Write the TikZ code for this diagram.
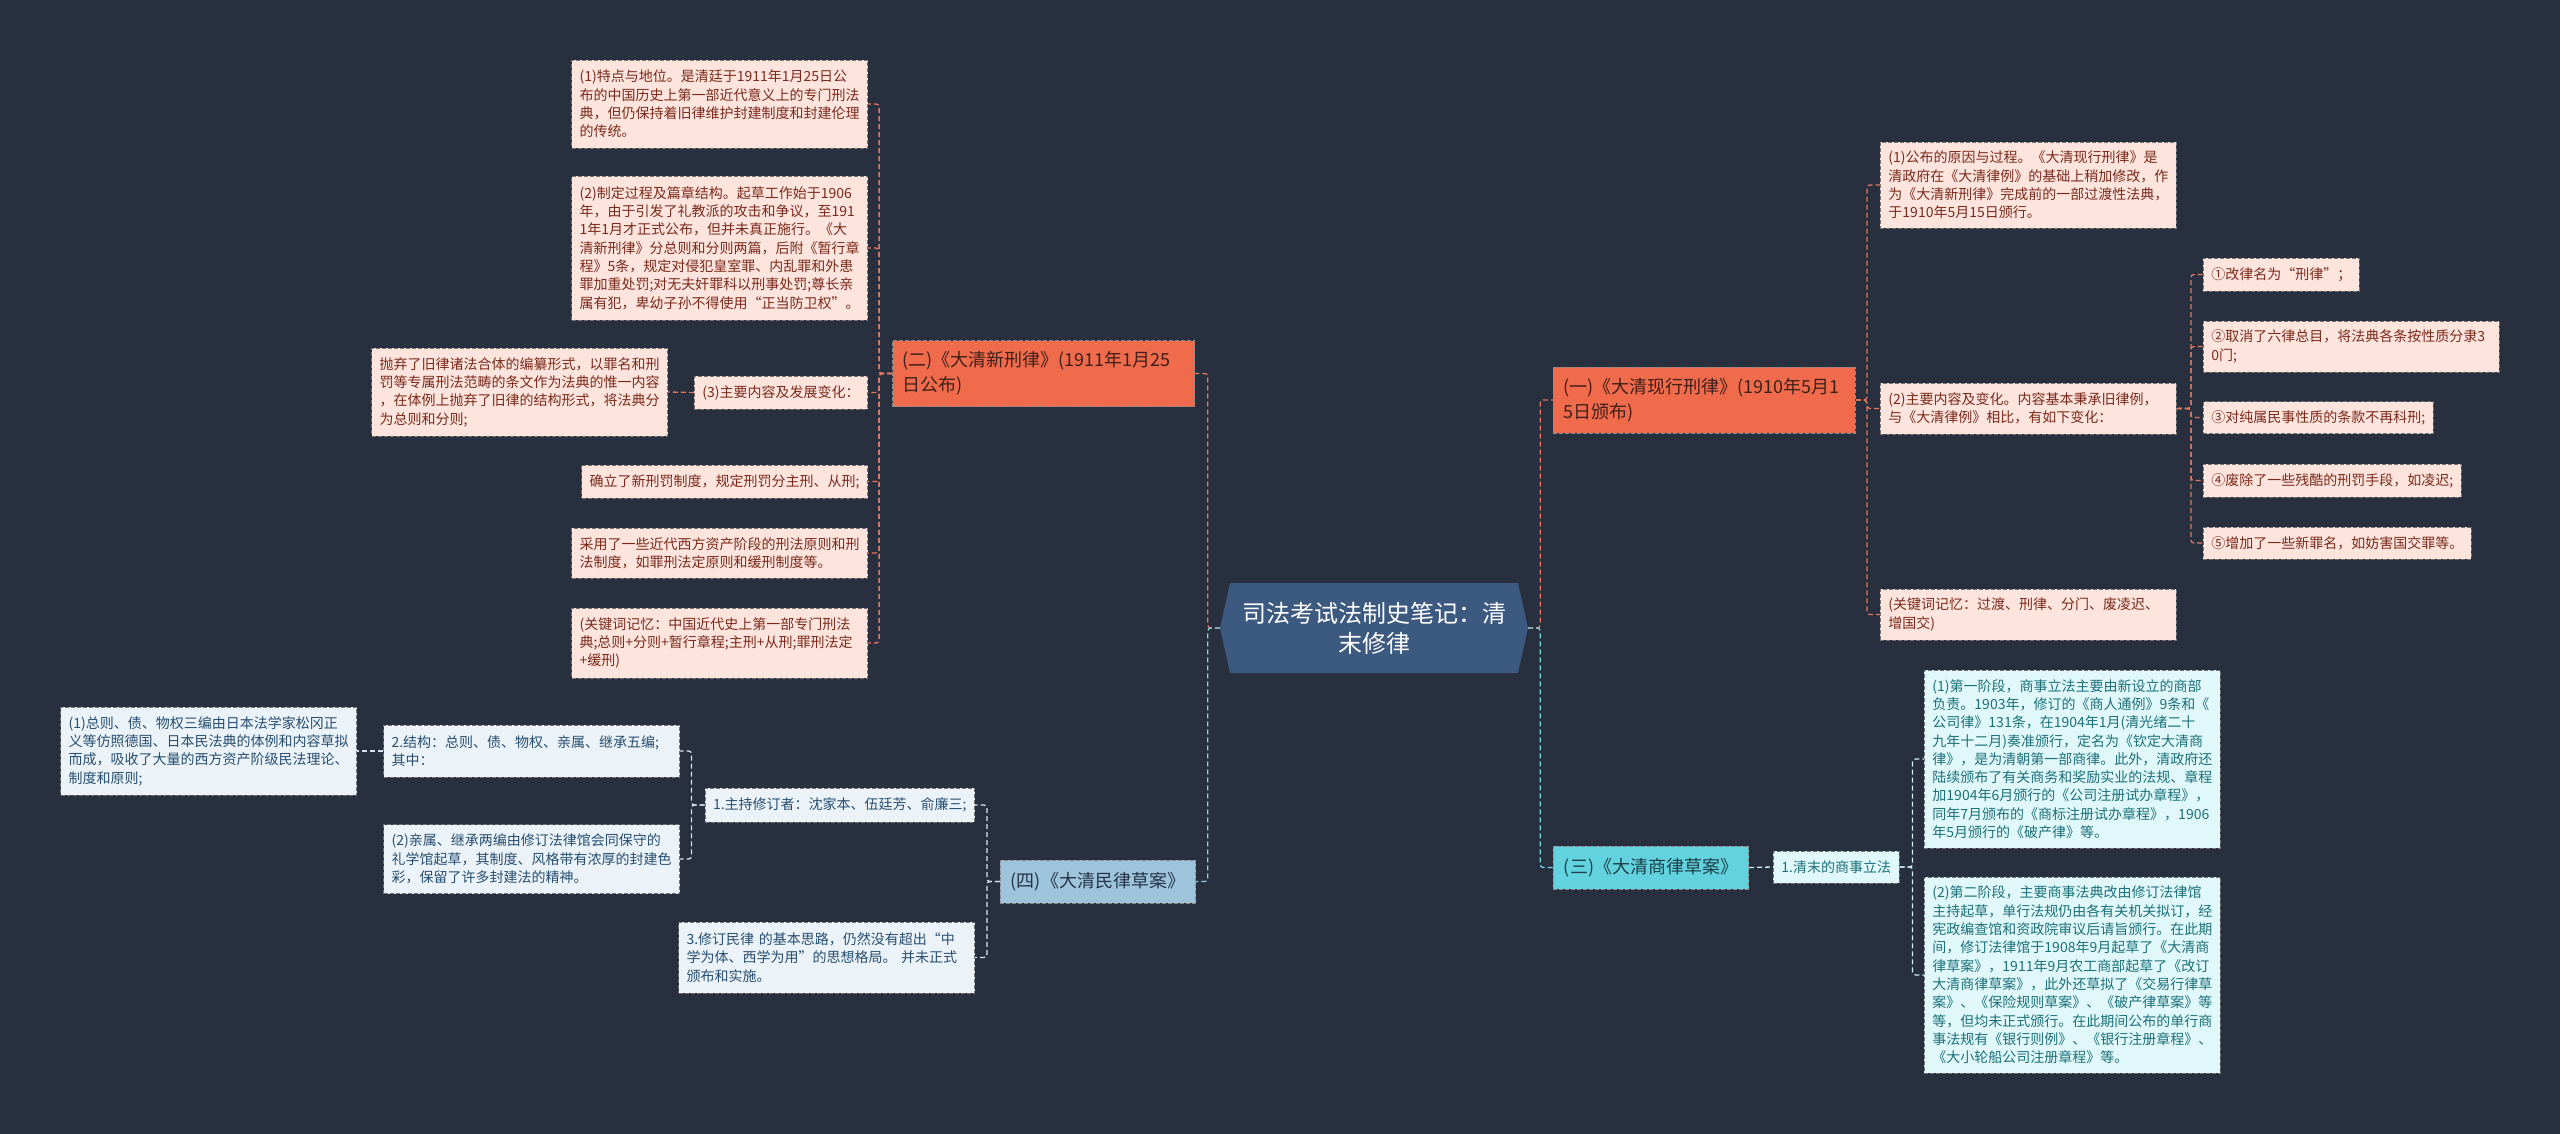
\documentclass[tikz,border=0pt]{standalone}
\usepackage{fontspec}
\setmainfont{Noto Sans CJK SC}
\usepackage{tikz}
\definecolor{MMBg}{RGB}{40,47,62}
\definecolor{MMCentre}{RGB}{60,89,128}
\definecolor{MMOrange}{RGB}{240,107,76}
\definecolor{MMOrTxt}{RGB}{62,32,26}
\definecolor{MMOrLine}{RGB}{228,120,95}
\definecolor{MMPink}{RGB}{253,228,221}
\definecolor{MMPinkTxt}{RGB}{122,42,28}
\definecolor{MMSky}{RGB}{158,196,220}
\definecolor{MMSkyDark}{RGB}{36,52,72}
\definecolor{MMSkyLeaf}{RGB}{236,243,248}
\definecolor{MMSkyTxt}{RGB}{38,78,112}
\definecolor{MMSkyLine}{RGB}{214,227,237}
\definecolor{MMBlueLine}{RGB}{140,205,225}
\definecolor{MMCyan}{RGB}{98,211,222}
\definecolor{MMCyanDark}{RGB}{28,62,72}
\definecolor{MMCyanLeaf}{RGB}{224,248,249}
\definecolor{MMCyanTxt}{RGB}{28,112,122}
\definecolor{MMCyanLine}{RGB}{205,238,242}
\definecolor{MMCyanMid}{RGB}{120,215,225}
\newcommand{\leaffont}{\fontsize{14}{18.3}\selectfont}
\newcommand{\brfont}{\fontsize{18}{25}\selectfont}
\newcommand{\ctrfont}{\fontsize{24}{30}\selectfont}

\begin{document}
\begin{tikzpicture}[x=1pt, y=-1pt,
          pbx/.style={rectangle, fill=MMPink, draw=black!55, line width=0.9pt,
                      dash pattern=on 4pt off 2pt, text=MMPinkTxt, font=\leaffont,
                      align=left, inner xsep=8pt, inner ysep=4pt},
          sbx/.style={pbx, fill=MMSkyLeaf, text=MMSkyTxt},
          cbx/.style={pbx, fill=MMCyanLeaf, text=MMCyanTxt},
          wide/.style={text width=280pt},
          brx/.style={rectangle, draw=black!45, line width=0.9pt,
                      dash pattern=on 4pt off 2pt, font=\brfont, align=left,
                      inner xsep=10.5pt, inner ysep=4pt, minimum height=43pt},
          obr/.style={brx, fill=MMOrange, text=MMOrTxt, text width=282pt,
                      inner xsep=10pt, minimum height=66pt},
          sbr/.style={brx, fill=MMSky, text=MMSkyDark},
          cbr/.style={brx, fill=MMCyan, text=MMCyanDark},
          olnk/.style={draw=MMOrLine, line width=1.3pt, dash pattern=on 5pt off 3pt,
                       rounded corners=3pt},
          slnk/.style={olnk, draw=MMSkyLine},
          clnk/.style={olnk, draw=MMCyanLine}
        ]
        % background
        \fill[MMBg] (0,0) rectangle (2560,1134);

        % centre
        \fill[MMCentre] (1220,628) -- (1230,583) -- (1518,583) -- (1528,628)
              -- (1518,673) -- (1230,673) -- cycle;
        \node[font=\ctrfont, text=white, align=center, minimum width=308pt,
              minimum height=90pt]
              (ctr) at (1374,628) {司法考试法制史笔记：清\\末修律};

        % (二) Da Qing xin xinglü
        \node[obr, anchor=east] (b2) at (1195,373.5)
              {(二)《大清新刑律》(1911年1月25\\日公布)};
        \node[pbx, wide, anchor=east, minimum height=88pt] (n2a) at (868,104)
              {(1)特点与地位。是清廷于1911年1月25日公\\
               布的中国历史上第一部近代意义上的专门刑法\\
               典，但仍保持着旧律维护封建制度和封建伦理\\
               的传统。};
        \node[pbx, wide, anchor=east, minimum height=144pt] (n2b) at (868,248)
              {(2)制定过程及篇章结构。起草工作始于1906\\
               年，由于引发了礼教派的攻击和争议，至191\\
               1年1月才正式公布，但并未真正施行。《大\\
               清新刑律》分总则和分则两篇，后附《暂行章\\
               程》5条，规定对侵犯皇室罪、内乱罪和外患\\
               罪加重处罚;对无夫奸罪科以刑事处罚;尊长亲\\
               属有犯，卑幼子孙不得使用“正当防卫权”。};
        \node[pbx, anchor=east, minimum height=33pt] (n2c) at (868,392.5)
              {(3)主要内容及发展变化：};
        \node[pbx, wide, anchor=east, minimum height=88pt] (n2c1) at (668,392)
              {抛弃了旧律诸法合体的编纂形式，以罪名和刑\\
               罚等专属刑法范畴的条文作为法典的惟一内容\\
               ，在体例上抛弃了旧律的结构形式，将法典分\\
               为总则和分则;};
        \node[pbx, anchor=east, minimum height=33pt] (n2d) at (868,481.5)
              {确立了新刑罚制度，规定刑罚分主刑、从刑;};
        \node[pbx, wide, anchor=east, minimum height=50pt] (n2e) at (868,553)
              {采用了一些近代西方资产阶段的刑法原则和刑\\
               法制度，如罪刑法定原则和缓刑制度等。};
        \node[pbx, wide, anchor=east, minimum height=70pt] (n2f) at (868,643)
              {(关键词记忆：中国近代史上第一部专门刑法\\
               典;总则+分则+暂行章程;主刑+从刑;罪刑法定\\
               +缓刑)};

        % (一) Da Qing xianxing xinglü
        \node[obr, anchor=west] (b1) at (1553,400)
              {(一)《大清现行刑律》(1910年5月1\\5日颁布)};
        \node[pbx, wide, anchor=west, minimum height=86pt] (n1a) at (1880,185)
              {(1)公布的原因与过程。《大清现行刑律》是\\
               清政府在《大清律例》的基础上稍加修改，作\\
               为《大清新刑律》完成前的一部过渡性法典，\\
               于1910年5月15日颁行。};
        \node[pbx, wide, anchor=west, minimum height=51pt] (n1b) at (1880,408.5)
              {(2)主要内容及变化。内容基本秉承旧律例，\\
               与《大清律例》相比，有如下变化：};
        \node[pbx, wide, anchor=west, minimum height=51pt] (n1c) at (1880,614.5)
              {(关键词记忆：过渡、刑律、分门、废凌迟、\\
               增国交)};
        \node[pbx, anchor=west, minimum height=33pt] (n1b1) at (2203,274.5)
              {①改律名为“刑律”；};
        \node[pbx, wide, anchor=west, minimum height=51pt] (n1b2) at (2203,346.5)
              {②取消了六律总目，将法典各条按性质分隶3\\0门;};
        \node[pbx, anchor=west, minimum height=32pt] (n1b3) at (2203,417.5)
              {③对纯属民事性质的条款不再科刑;};
        \node[pbx, anchor=west, minimum height=33pt] (n1b4) at (2203,480.5)
              {④废除了一些残酷的刑罚手段，如凌迟;};
        \node[pbx, anchor=west, minimum height=32pt] (n1b5) at (2203,543)
              {⑤增加了一些新罪名，如妨害国交罪等。};

        % (三) shanglü
        \node[cbr, anchor=west] (b3) at (1553,867.5) {(三)《大清商律草案》};
        \node[cbx, anchor=west, minimum height=32pt] (n3a) at (1773,867)
              {1.清末的商事立法};
        \node[cbx, wide, anchor=west, minimum height=178pt] (n3a1) at (1924,759)
              {(1)第一阶段，商事立法主要由新设立的商部\\
               负责。1903年，修订的《商人通例》9条和《\\
               公司律》131条，在1904年1月(清光绪二十\\
               九年十二月)奏准颁行，定名为《钦定大清商\\
               律》，是为清朝第一部商律。此外，清政府还\\
               陆续颁布了有关商务和奖励实业的法规、章程\\
               加1904年6月颁行的《公司注册试办章程》，\\
               同年7月颁布的《商标注册试办章程》，1906\\
               年5月颁行的《破产律》等。};
        \node[cbx, wide, anchor=west, minimum height=196pt] (n3a2) at (1924,975)
              {(2)第二阶段，主要商事法典改由修订法律馆\\
               主持起草，单行法规仍由各有关机关拟订，经\\
               宪政编查馆和资政院审议后请旨颁行。在此期\\
               间，修订法律馆于1908年9月起草了《大清商\\
               律草案》，1911年9月农工商部起草了《改订\\
               大清商律草案》，此外还草拟了《交易行律草\\
               案》、《保险规则草案》、《破产律草案》等\\
               等，但均未正式颁行。在此期间公布的单行商\\
               事法规有《银行则例》、《银行注册章程》、\\
               《大小轮船公司注册章程》等。};

        % (四) minlü
        \node[sbr, anchor=east] (b4) at (1196,881.5) {(四)《大清民律草案》};
        \node[sbx, anchor=east, minimum height=34pt] (n4a) at (975,805)
              {1.主持修订者：沈家本、伍廷芳、俞廉三;};
        \node[sbx, wide, anchor=east, minimum height=71pt] (n4b) at (975,957.5)
              {3.修订民律 的基本思路，仍然没有超出“中\\
               学为体、西学为用”的思想格局。 并未正式\\
               颁布和实施。};
        \node[sbx, wide, anchor=east, minimum height=52pt] (n4a1) at (680,751)
              {2.结构：总则、债、物权、亲属、继承五编;\\其中：};
        \node[sbx, wide, anchor=east, minimum height=69pt] (n4a2) at (680,859)
              {(2)亲属、继承两编由修订法律馆会同保守的\\
               礼学馆起草，其制度、风格带有浓厚的封建色\\
               彩，保留了许多封建法的精神。};
        \node[sbx, wide, anchor=east, minimum height=88pt] (n4a1a) at (357,751)
              {(1)总则、债、物权三编由日本法学家松冈正\\
               义等仿照德国、日本民法典的体例和内容草拟\\
               而成，吸收了大量的西方资产阶级民法理论、\\
               制度和原则;};

        % centre to branches
        \draw[olnk] (ctr.west) -- ++(-12,0) |- (b2.east);
        \draw[olnk, draw=MMBlueLine] (ctr.west) -- ++(-12,0) |- (b4.east);
        \draw[olnk] (ctr.east) -- ++(12,0) |- (b1.west);
        \draw[olnk, draw=MMCyanMid] (ctr.east) -- ++(12,0) |- (b3.west);
        % (二) children
        \draw[olnk] (b2.west) -- ++(-13,0) |- (n2a.east);
        \draw[olnk] (b2.west) -- ++(-13,0) |- (n2b.east);
        \draw[olnk] (b2.west) -- ++(-13,0) |- (n2c.east);
        \draw[olnk] (b2.west) -- ++(-13,0) |- (n2d.east);
        \draw[olnk] (b2.west) -- ++(-13,0) |- (n2e.east);
        \draw[olnk] (b2.west) -- ++(-13,0) |- (n2f.east);
        \draw[olnk] (n2c.west) -- (n2c1.east);
        % (一) children
        \draw[olnk] (b1.east) -- ++(11,0) |- (n1a.west);
        \draw[olnk] (b1.east) -- ++(11,0) |- (n1b.west);
        \draw[olnk] (b1.east) -- ++(11,0) |- (n1c.west);
        \draw[olnk] (n1b.east) -- ++(14,0) |- (n1b1.west);
        \draw[olnk] (n1b.east) -- ++(14,0) |- (n1b2.west);
        \draw[olnk] (n1b.east) -- ++(14,0) |- (n1b3.west);
        \draw[olnk] (n1b.east) -- ++(14,0) |- (n1b4.west);
        \draw[olnk] (n1b.east) -- ++(14,0) |- (n1b5.west);
        % (三) children
        \draw[clnk] (b3.east) -- (n3a.west);
        \draw[clnk] (n3a.east) -- ++(13,0) |- (n3a1.west);
        \draw[clnk] (n3a.east) -- ++(13,0) |- (n3a2.west);
        % (四) children
        \draw[slnk] (b4.west) -- ++(-13,0) |- (n4a.east);
        \draw[slnk] (b4.west) -- ++(-13,0) |- (n4b.east);
        \draw[slnk] (n4a.west) -- ++(-13,0) |- (n4a1.east);
        \draw[slnk] (n4a.west) -- ++(-13,0) |- (n4a2.east);
        \draw[slnk] (n4a1.west) -- (n4a1a.east);
      \end{tikzpicture}
\end{document}
